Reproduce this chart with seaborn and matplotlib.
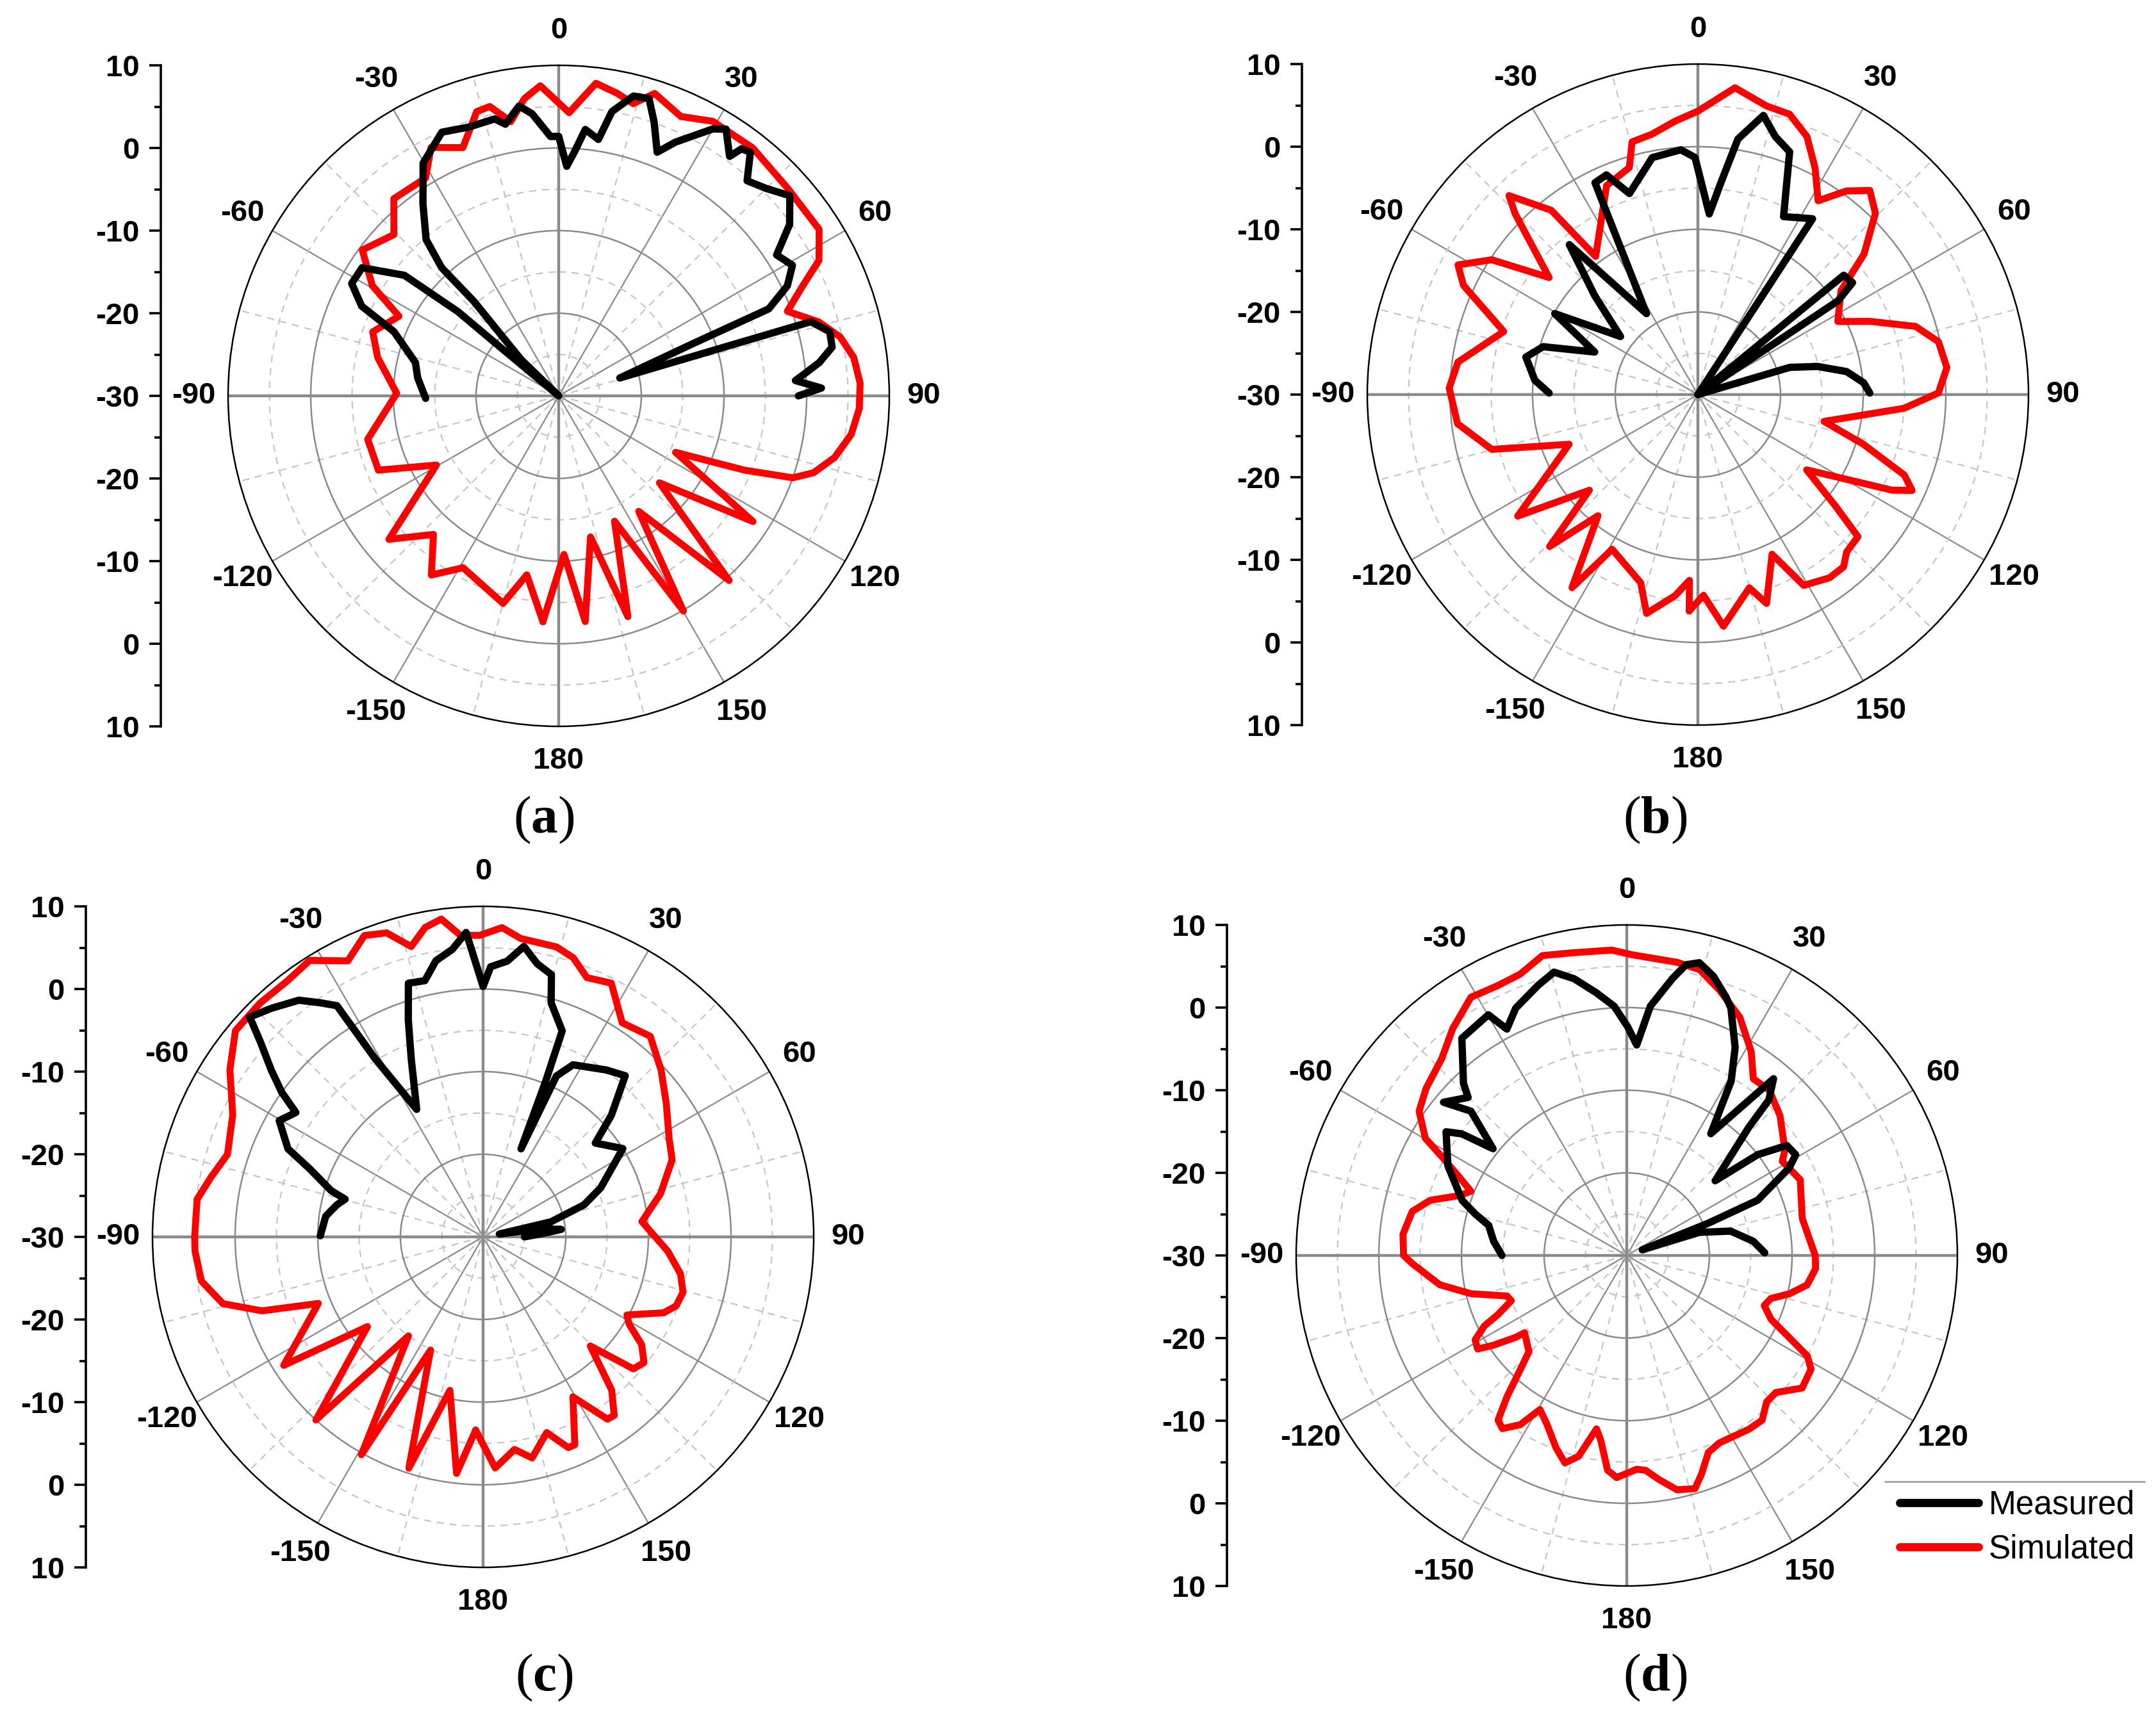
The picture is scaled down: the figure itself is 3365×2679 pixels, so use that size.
import numpy as np
import pandas as pd
import matplotlib
matplotlib.use('Agg')
import matplotlib.pyplot as plt
from matplotlib.lines import Line2D
import seaborn as sns

sns.set_style('white')
plt.rcParams['font.family'] = ['Liberation Sans', 'DejaVu Sans']
plt.rcParams.update({'text.color': 'black', 'xtick.color': 'black',
                     'ytick.color': 'black', 'axes.edgecolor': 'black',
                     'mathtext.fontset': 'custom',
                     'mathtext.rm': 'Liberation Serif',
                     'mathtext.bf': 'Liberation Serif:bold'})

# ─────────────────────────────────────────────
# Data (angle in degrees, gain in dB)
# ─────────────────────────────────────────────
sim_a_deg = [-176, -169.9, -165, -150.9, -144.6, -137.9, -130.2, -119.5, -112.4, -102.8,
             -89.1, -78, -71, -63.5, -59.4, -53.4, -45.6, -39.9, -31.4, -27.2,
             -21.1, -16.1, -13.4, -9.9, -6.6, -3.4, 2.1, 6.8, 10.9, 14.3,
             17.6, 23.6, 29.3, 38, 47.8, 57.4, 62.5, 65.7, 69.7, 74.1,
             78.2, 82.6, 87.6, 92.4, 97.5, 102.6, 106.8, 109.3, 111.8, 115.8,
             122.9, 130.8, 137.3, 145.3, 149.9, 156, 162.6, 167.3, 173.3, 178.1]
sim_a_db = [-2.6, -8, -4, -6.2, -3.4, -7.4, -3.1, -13, -6.4, -6.3,
            -10.4, -7.6, -6.2, -8.4, -3.8, -0.4, -2.1, 1.1, 0.9, 3.8,
            2.2, 5.8, 6, 3.7, 6.2, 7.6, 4.3, 8.1, 7.3, 6.5,
            8.4, 6.9, 8.1, 8.1, 7.4, 7.4, 5.5, 2.4, -0.5, 2.7,
            4.8, 6, 6.5, 6.4, 5.7, 4.2, 2.2, 0, -5.8, -14.3,
            -2, -13.9, 0.4, -13, 0.1, -13.4, -2, -12.5, -2.5, -10.8]

meas_a_deg = [-91.1, -82.7, -76.9, -68.7, -65.5, -61.5, -56.9, -52, -50.1, -50.2,
              -47, -46, -41.9, -42.4, -40.3, -35.2, -30.2, -23.9, -18.5, -13,
              -11.1, -7.8, -5.4, -1.8, 0, 2, 3.7, 5.7, 8.8, 10.6,
              14, 16.9, 19.2, 22, 24.7, 30, 32.1, 35.5, 36.5, 38.2,
              41.2, 45, 49.1, 53.4, 57.1, 60.8, 64.3, 67.5, 68.7, 73.7,
              73.6, 73.6, 76.7, 79.9, 82.7, 84.7, 86.3, 88.3, 90]
meas_a_db = [-13.9, -12.8, -12.2, -8.6, -3.8, -1.5, -1.6, -6.3, -14.1, -20.8,
             -30, -23.7, -14.6, -9, -5.2, -1.5, 2.6, 4.9, 4.3, 4.4,
             3.5, 5.4, 4.3, 1.4, 1.4, -2.2, -0.4, 2.4, 1.4, 5,
             7.4, 7.6, 5.1, 1.8, 3.8, 7.3, 8.1, 5.6, 7.2, 7.5,
             4.6, 5.5, 7, 4.8, 1.4, 2.4, 0.7, -2.5, -12.4, -22.3,
             -10.2, 1.8, 3.7, 3.6, 1.8, 0, -1.3, 1.8, -1]

sim_b_deg = [-177.7, -177.4, -173.5, -166.8, -163.1, -151, -146.9, -140.5, -135.7, -131.4,
             -124, -111.1, -104.9, -96.9, -88.5, -82.3, -72, -65, -61.6, -56.8,
             -51.8, -45.3, -43.5, -38.5, -36.5, -23.6, -16.8, -14.6, -10, -4.8,
             0, 6.9, 13.4, 18.1, 22.9, 27.3, 31.8, 36.1, 40.1, 44.4,
             49.8, 54, 62.4, 66.9, 72.6, 77.6, 83.8, 89.6, 93.8, 102,
             106.7, 111.3, 114.1, 116.2, 124.7, 129, 131.6, 136.6, 139.8, 144.3,
             151, 155.1, 161.8, 165.1, 173.7, 178.4]
sim_b_db = [-3.8, -7.5, -5.5, -2.8, -6.2, -8.6, -2.1, -11, -4.3, -12.5,
            -3.7, -13.3, -4.2, -0.7, 0.1, -0.7, -5.3, 1.3, 3, -0.2,
            -7.1, 1.1, 3.2, -1.5, -9.2, -2.4, -1.3, 1.6, 2, 3.2,
            4.3, 7.4, 5.9, 5.7, 3.9, 0.9, -2.4, 0.5, 2.3, 0.7,
            -3.7, -8.6, -10.9, -7.4, -2.4, -0.2, 0.3, -0.9, -5, -14.4,
            -9.1, -3.2, -1.6, -3.8, -14, -8.6, -4.1, -3.8, -2.7, -2.7,
            -3.6, -8.7, -3.4, -5.8, -1.8, -5.7]

meas_b_deg = [-89.4, -85, -77.7, -72.8, -67.6, -60.5, -53.1, -46.2, -40.6, -32.4,
              -25.9, -22.6, -18.8, -10.9, -4, -0.7, 3.6, 6.2, 8.9, 13.2,
              16.7, 20.7, 25.7, 33.1, 33.5, 50.3, 50.7, 54.1, 56.2, 57,
              73, 73.5, 76.8, 81.2, 85.9, 89.5]
meas_b_db = [-12, -10.2, -8.7, -10.4, -16.5, -10.1, -18.3, -12.7, -6.1, -18.4,
             -1.5, -1.2, -4.3, -0.8, -0.3, -1.3, -8.1, -4.2, 1.3, 4.7,
             2.6, 1.4, -6.1, -4.6, -30, -30, -7.2, -6.9, -9.6, -30,
             -30, -18.4, -15.1, -11.8, -9.9, -9.2]

sim_c_deg = [-177.8, -173.6, -167.8, -162.2, -155.1, -150.8, -143, -137.6, -127.8, -122.8,
             -112, -108.5, -104.4, -98.9, -92.8, -90, -82.5, -77.6, -72.1, -64,
             -56.6, -50.2, -43.6, -37.3, -32.1, -26.1, -21.5, -17.6, -13.9, -10.6,
             -7.5, -4.3, -0.6, 3.5, 7.2, 14.2, 17.9, 21.8, 26.8, 33,
             39.8, 46.9, 54, 61.9, 67.8, 76.3, 84.5, 94.4, 100.6, 105.5,
             109.7, 112.8, 118.5, 120.9, 124.2, 128, 131.3, 135.5, 140, 143.7,
             145.7, 150.7, 156.2, 158, 162, 167.5, 171.6, 177]
sim_c_db = [-6.6, -1.2, -11, -0.6, -14.9, 0.2, -15, 0, -12.3, -1.3,
            -8.5, -1.8, 2.5, 4.5, 4.9, 4.9, 4.9, 3.7, 2.5, 3.7,
            6.7, 9, 9.1, 9, 9.5, 7.2, 9.2, 8.6, 6.2, 8.1,
            8.8, 6.6, 6.5, 7.5, 6.4, 6.2, 5.5, 3.8, 4.4, 0.9,
            1.6, -0.5, -2.6, -4.5, -5.3, -7.9, -10.7, -7.6, -5.7, -4.9,
            -5.2, -6.3, -10.2, -9.4, -6.8, -5.3, -5.8, -11.5, -5.8, -3.2,
            -3.3, -7.8, -2.5, -2.5, -5.1, -2.6, -4, -2]

meas_c_deg = [-89.6, -82.5, -77.6, -74.7, -73.1, -68.5, -65.7, -60.3, -56.4, -54.3,
              -51.8, -48.8, -46.7, -42.8, -37.9, -34.8, -32.3, -31.2, -27.5, -22,
              -19, -16.4, -12.8, -9.7, -6.1, -3.2, -1.8, 0, 1.6, 5,
              8, 11.2, 14.6, 16.2, 21, 21.9, 23.3, 24.5, 27.6, 36.4,
              41.4, 46.5, 50.1, 57.7, 67.4, 72.4, 77.5, 80, 82, 84.5,
              87, 90]
meas_c_db = [-10.3, -10.8, -11.9, -12.7, -10.8, -7.4, -4.1, -1.6, -2.8, 0,
             2.6, 5.8, 8.8, 7.7, 6.3, 4.5, 3.1, -4.8, -12.6, -6.8,
             -2.2, 2, 1.8, 3.9, 5, 6.9, 3.7, 0.3, 2.7, 3.5,
             5.5, 3.7, 2.8, -0.5, -3.3, -9.7, -18.4, -8.6, -6.5, -4.9,
             -4, -8.6, -12.3, -10, -14.6, -17.2, -21.6, -28, -23, -20.5,
             -23, -25]

sim_d_deg = [-177.4, -174.9, -172, -170.1, -166.5, -163.4, -159.8, -154.7, -150.6, -147.8,
             -144.3, -142, -139.7, -137, -134.5, -127.1, -126.4, -123.9, -122.1, -119.1,
             -116.3, -114.7, -111.4, -108.7, -103.8, -98.9, -92.3, -90, -84.6, -78.4,
             -74.3, -70.3, -67.6, -65, -62.2, -59.8, -55.2, -50.2, -43.2, -37.5,
             -31.1, -25.6, -20.8, -15.7, -9.9, -2.8, 1, 9.7, 14.3, 19.3,
             25.4, 31.4, 35.6, 40.8, 47.6, 56.3, 58.8, 66.4, 78.1, 90,
             94, 99.3, 103.3, 106.6, 110, 113.9, 116.8, 119.1, 121.7, 127.1,
             132.6, 136.3, 140.6, 144.9, 153.7, 157.5, 161.2, 163.7, 167.9, 171.8,
             175, 177.3]
sim_d_db = [-3.1, -3.9, -7.4, -8.7, -5, -3.8, -5.2, -7.4, -8.6, -5.8,
            -4.2, -4.7, -7.6, -11.1, -13.4, -14.5, -13.3, -10.5, -8.7, -9,
            -10.8, -12.8, -15, -14.7, -10.6, -7.1, -4.1, -3, -2.8, -3.5,
            -5.3, -8.5, -9.6, -7.7, -5, -1.8, 0.6, 1.6, 2.7, 4.6,
            6.5, 6.2, 6.4, 7.7, 7.2, 7, 6.4, 6, 5.7, 4,
            1.9, -1.1, -3.7, -3.6, -4.9, -7, -8, -7.1, -8.3, -7.2,
            -7.1, -7.9, -9.8, -11.8, -12.3, -10.9, -8, -5, -3.8, -3.4,
            -5.5, -5.5, -4.2, -4.3, -4.7, -4.2, -2, -0.6, -1, -2.6,
            -3.9, -4.1]

meas_d_deg = [-90, -83.9, -77.7, -74.7, -71.5, -63.4, -55.6, -53.6, -51.4, -47.2,
              -50.1, -45.1, -43.5, -37.2, -29.9, -27.9, -24.2, -18.2, -14.4, -10.8,
              -6.6, -2.9, 0.2, 2.7, 5.4, 9.4, 11.5, 13.9, 17.2, 21,
              22.8, 27.5, 30.9, 34.6, 39.7, 42.4, 43.6, 49.8, 52.4, 55.5,
              59.2, 61.7, 67.1, 68.4, 70, 72.3, 76.8, 83.6, 88.9]
meas_d_db = [-14.9, -13.8, -12.9, -11, -9, -5.8, -3.5, -5.2, -9.3, -4.3,
             -1.1, -2.9, -1.3, 3, 3.6, 1, 2.8, 4.4, 5.4, 4.1,
             2, 0.2, -2.3, -4.5, 0.3, 4, 5.9, 6.5, 5.4, 3.5,
             2.5, -1.6, -5.4, -12.1, -2.2, -4.5, -8.6, -16, -10, -6.5,
             -6.2, -7.7, -12.8, -19.4, -28, -20.8, -17.1, -14.6, -13.3]

theta_ticks = [0, 30, 60, 90, 120, 150, 180, 210, 240, 270, 300, 330]
theta_labels = ['0', '30', '60', '90', '120', '150', '180',
                '-150', '-120', '-90', '-60', '-30']
r_min, r_max = -30, 10
series_names = ['Measured', 'Simulated']
captions = ['a', 'b', 'c', 'd']

# ─────────────────────────────────────────────
# Layout (pixels of the 3366x2679 output)
# ─────────────────────────────────────────────
W, H, DPI = 3366, 2679, 200
R = 516
panels = [
    dict(center=(872, 618), spine_x=251, cap=(849, 1280),
         sim=(sim_a_deg, sim_a_db), meas=(meas_a_deg, meas_a_db)),
    dict(center=(2650, 616), spine_x=2032, cap=(2583, 1280),
         sim=(sim_b_deg, sim_b_db), meas=(meas_b_deg, meas_b_db)),
    dict(center=(754, 1931), spine_x=134, cap=(849, 2619),
         sim=(sim_c_deg, sim_c_db), meas=(meas_c_deg, meas_c_db)),
    dict(center=(2539, 1960), spine_x=1915, cap=(2583, 2619),
         sim=(sim_d_deg, sim_d_db), meas=(meas_d_deg, meas_d_db)),
]

GRID_DARK = '#8a8a8a'
GRID_LIGHT = '#c6c6c6'
LABEL_FS = 17
LINE_KW = dict(sort=False, estimator=None, solid_joinstyle='round',
               solid_capstyle='round')


def to_frame(deg, db, closed=False):
    deg = np.asarray(deg, dtype=float)
    db = np.asarray(db, dtype=float)
    if closed:
        deg = np.append(deg, deg[0] + 360)
        db = np.append(db, db[0])
    return pd.DataFrame({'theta': np.deg2rad(deg), 'gain': db})


def draw_polar(fig, p):
    cx, cy = p['center']
    ax = fig.add_axes([(cx - R) / W, 1 - (cy + R) / H, 2 * R / W, 2 * R / H],
                      projection='polar')
    ax.set_theta_zero_location('N')
    ax.set_theta_direction(-1)
    ax.set_ylim(r_min, r_max)

    ax.set_xticks(np.deg2rad(theta_ticks))
    ax.set_xticklabels(theta_labels, fontsize=LABEL_FS, fontweight='bold')
    ax.set_xticks(np.deg2rad(np.array(theta_ticks) + 15), minor=True)
    ax.set_yticks([-20, -10, 0])
    ax.set_yticks([-25, -15, -5, 5], minor=True)
    ax.set_yticklabels([])
    ax.tick_params(axis='x', which='major', pad=12.5, length=0)
    ax.tick_params(axis='x', which='minor', length=0)
    ax.tick_params(axis='y', which='both', length=0)

    ax.xaxis.grid(True, which='major', color=GRID_DARK, lw=0.8)
    ax.xaxis.grid(True, which='minor', color=GRID_LIGHT, lw=0.8, ls=(0, (5, 4)))
    ax.yaxis.grid(True, which='major', color=GRID_DARK, lw=0.9)
    ax.yaxis.grid(True, which='minor', color=GRID_LIGHT, lw=0.8, ls=(0, (5, 4)))
    for a in (0, 90, 180, 270):
        ax.axvline(np.deg2rad(a), color=GRID_DARK, lw=1.6, zorder=1)
    ax.spines['polar'].set_color('black')
    ax.spines['polar'].set_linewidth(0.9)

    sns.lineplot(data=to_frame(*p['sim'], closed=True), x='theta', y='gain', ax=ax,
                 color='#ff0000', lw=3.9, label=series_names[1], zorder=3, **LINE_KW)
    sns.lineplot(data=to_frame(*p['meas']), x='theta', y='gain', ax=ax,
                 color='black', lw=4.1, label=series_names[0], zorder=4, **LINE_KW)
    if ax.get_legend() is not None:
        ax.get_legend().remove()
    ax.set_xlabel('')
    ax.set_ylabel('')
    return ax


def draw_scale(fig, p):
    cx, cy = p['center']
    lax = fig.add_axes([p['spine_x'] / W, 1 - (cy + R) / H, 0.0001, 2 * R / H])
    lax.set_facecolor('none')
    lax.set_ylim(-40, 40)
    lax.set_xticks([])
    for s in ('top', 'right', 'bottom'):
        lax.spines[s].set_visible(False)
    lax.spines['left'].set_linewidth(1.3)
    lax.spines['left'].set_color('black')
    major = np.arange(-40, 41, 10)
    lax.set_yticks(major)
    lax.set_yticklabels([str(int(r_min + abs(v))) for v in major],
                        fontsize=LABEL_FS, fontweight='bold')
    lax.set_yticks(np.arange(-35, 40, 10), minor=True)
    lax.tick_params(axis='y', which='major', left=True, length=6.5, width=1.3,
                    pad=5.5, direction='out', color='black')
    lax.tick_params(axis='y', which='minor', left=True, length=3.5, width=1.3,
                    direction='out', color='black')
    return lax


fig = plt.figure(figsize=(W / DPI, H / DPI), dpi=DPI)
axes = []
for p, cap in zip(panels, captions):
    axes.append(draw_polar(fig, p))
    draw_scale(fig, p)
    fig.text(p['cap'][0] / W, 1 - p['cap'][1] / H, r'($\mathbf{%s}$)' % cap,
             ha='center', va='center', fontsize=30,
             family=['Liberation Serif', 'DejaVu Serif'])

# legend in the lower right corner
handles, labels = axes[3].get_legend_handles_labels()
order = [labels.index(n) for n in series_names]
leg = fig.legend([handles[i] for i in order], [labels[i] for i in order],
                 loc='upper left', bbox_to_anchor=(2965 / W, 1 - 2326 / H),
                 frameon=False, fontsize=18.5, borderpad=0, borderaxespad=0,
                 handlelength=2.4, handletextpad=0.3, labelspacing=0.38)
for ln in leg.get_lines():
    ln.set_linewidth(4.6)
    ln.set_solid_capstyle('round')
fig.add_artist(Line2D([2942 / W, 3347 / W], [1 - 2313 / H, 1 - 2313 / H],
                      transform=fig.transFigure, color='#a0a0a0', lw=1.0))

fig.savefig('out.png', dpi=DPI, facecolor='white')
